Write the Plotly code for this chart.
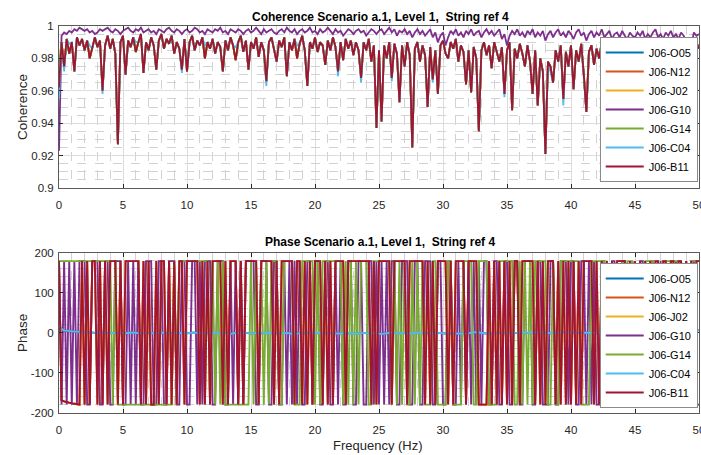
import plotly.graph_objects as go

# ---------------- data ----------------
STEP = 0.2  # Hz, sample spacing of the series below

names = ["J06-O05", "J06-N12", "J06-J02", "J06-G10", "J06-G14", "J06-C04", "J06-B11"]
colors = ["#0072BD", "#D95319", "#EDB120", "#7E2F8E", "#77AC30", "#4DBEEE", "#A2142F"]

x_ticks = [0, 5, 10, 15, 20, 25, 30, 35, 40, 45, 50]
coh_ticks = [0.9, 0.92, 0.94, 0.96, 0.98, 1.0]
coh_tick_labels = ["0.9", "0.92", "0.94", "0.96", "0.98", "1"]
ph_ticks = [-200, -100, 0, 100, 200]
ph_tick_labels = ["-200", "-100", "0", "100", "200"]

# Coherence of J06-B11 (0 .. 50 Hz, 0.2 Hz step)
coh_b11 = [
    0.962, 0.990, 0.975, 0.992, 0.983, 0.990, 0.972, 0.993, 0.988, 0.992, 0.985, 0.991, 0.980, 0.986, 0.993, 0.987, 0.991, 0.960, 0.988, 0.994, 0.986, 0.992, 0.983, 0.927, 0.990,
    0.994, 0.970, 0.991, 0.987, 0.993, 0.984, 0.990, 0.995, 0.971, 0.990, 0.985, 0.993, 0.988, 0.973, 0.991, 0.995, 0.986, 0.992, 0.989, 0.994, 0.983, 0.990, 0.986, 0.973, 0.992,
    0.972, 0.990, 0.994, 0.985, 0.991, 0.988, 0.993, 0.980, 0.990, 0.986, 0.992, 0.983, 0.990, 0.987, 0.972, 0.991, 0.985, 0.993, 0.988, 0.979, 0.990, 0.994, 0.984, 0.991, 0.973,
    0.990, 0.986, 0.993, 0.981, 0.990, 0.985, 0.966, 0.990, 0.993, 0.986, 0.978, 0.991, 0.987, 0.993, 0.969, 0.990, 0.985, 0.992, 0.980, 0.989, 0.994, 0.985, 0.963, 0.990, 0.986,
    0.993, 0.984, 0.990, 0.988, 0.976, 0.991, 0.985, 0.993, 0.987, 0.972, 0.990, 0.979, 0.992, 0.986, 0.991, 0.982, 0.990, 0.985, 0.968, 0.990, 0.985, 0.992, 0.978, 0.988, 0.937,
    0.985, 0.941, 0.988, 0.980, 0.990, 0.968, 0.989, 0.983, 0.953, 0.988, 0.975, 0.990, 0.982, 0.925, 0.986, 0.990, 0.978, 0.988, 0.982, 0.950, 0.987, 0.967, 0.985, 0.958, 0.988,
    0.991, 0.983, 0.980, 0.990, 0.986, 0.992, 0.978, 0.988, 0.984, 0.964, 0.985, 0.959, 0.987, 0.980, 0.935, 0.985, 0.990, 0.982, 0.988, 0.974, 0.990, 0.984, 0.978, 0.987, 0.958,
    0.985, 0.990, 0.948, 0.986, 0.980, 0.989, 0.983, 0.975, 0.988, 0.978, 0.958, 0.985, 0.951, 0.980, 0.972, 0.921, 0.978, 0.975, 0.965, 0.985, 0.978, 0.988, 0.955, 0.984, 0.975,
    0.988, 0.961, 0.985, 0.978, 0.989, 0.970, 0.947, 0.984, 0.988, 0.976, 0.986, 0.980, 0.990, 0.972, 0.985, 0.979, 0.988, 0.965, 0.985, 0.978, 0.988, 0.970, 0.985, 0.958, 0.986,
    0.978, 0.988, 0.962, 0.984, 0.918, 0.982, 0.988, 0.970, 0.985, 0.960, 0.986, 0.978, 0.988, 0.913, 0.984, 0.975, 0.987, 0.919, 0.985, 0.978, 0.958, 0.980, 0.988, 0.924, 0.990, 0.986,
]

# Coherence of J06-G10 (0 .. 50 Hz, 0.2 Hz step)
coh_g10 = [
    0.923, 0.994, 0.996, 0.995, 0.997, 0.996, 0.998, 0.997, 0.999, 0.998, 0.997, 0.998, 0.996, 0.997, 0.995, 0.996, 0.998, 0.997, 0.998, 0.999, 0.997, 0.996, 0.998, 0.997, 0.995,
    0.997, 0.998, 0.999, 0.997, 0.996, 0.998, 0.997, 0.999, 0.996, 0.997, 0.998, 0.996, 0.997, 0.995, 0.998, 0.997, 0.996, 0.998, 0.999, 0.997, 0.996, 0.998, 0.997, 0.995, 0.997,
    0.998, 0.996, 0.997, 0.999, 0.998, 0.996, 0.997, 0.995, 0.998, 0.997, 0.996, 0.998, 0.997, 0.999, 0.996, 0.997, 0.995, 0.998, 0.997, 0.996, 0.998, 0.997, 0.995, 0.997, 0.998,
    0.996, 0.997, 0.999, 0.997, 0.995, 0.998, 0.996, 0.997, 0.998, 0.996, 0.995, 0.997, 0.998, 0.996, 0.999, 0.997, 0.996, 0.998, 0.995, 0.997, 0.998, 0.996, 0.997, 0.999, 0.996,
    0.997, 0.995, 0.998, 0.996, 0.997, 0.999, 0.997, 0.995, 0.998, 0.996, 0.997, 0.994, 0.996, 0.998, 0.997, 0.995, 0.997, 0.998, 0.996, 0.997, 0.994, 0.996, 0.998, 0.997, 0.995,
    0.997, 0.998, 0.995, 0.997, 0.999, 0.996, 0.998, 0.994, 0.997, 0.996, 0.998, 0.995, 0.997, 0.993, 0.996, 0.998, 0.995, 0.997, 0.994, 0.996, 0.998, 0.993, 0.996, 0.990, 0.994,
    0.996, 0.988, 0.993, 0.997, 0.995, 0.998, 0.994, 0.996, 0.993, 0.997, 0.995, 0.998, 0.994, 0.996, 0.997, 0.993, 0.996, 0.998, 0.995, 0.997, 0.994, 0.996, 0.998, 0.992, 0.995,
    0.988, 0.994, 0.997, 0.995, 0.998, 0.994, 0.996, 0.993, 0.997, 0.995, 0.998, 0.993, 0.996, 0.994, 0.997, 0.991, 0.995, 0.997, 0.993, 0.996, 0.998, 0.994, 0.996, 0.993, 0.997,
    0.995, 0.992, 0.996, 0.998, 0.994, 0.996, 0.991, 0.995, 0.997, 0.993, 0.996, 0.994, 0.998, 0.993, 0.995, 0.997, 0.992, 0.995, 0.996, 0.993, 0.997, 0.994, 0.992, 0.996, 0.994,
    0.993, 0.996, 0.994, 0.997, 0.992, 0.995, 0.993, 0.996, 0.998, 0.993, 0.995, 0.992, 0.996, 0.994, 0.997, 0.993, 0.995, 0.992, 0.996, 0.994, 0.990, 0.993, 0.988, 0.996, 0.994, 0.995,
]

# Where the other coherence curves differ from J06-B11 (frequency Hz -> value)
coh_o05_diff = {}
coh_n12_diff = {0.0: 0.965}
coh_j02_diff = {0.0: 0.968}
coh_g14_diff = {0.0: 0.977, 45.8: 0.916}
coh_c04_diff = {0.0: 0.955, 0.4: 0.972, 0.8: 0.989, 2.4: 0.988, 3.4: 0.958, 6.0: 0.990,
                9.6: 0.971, 11.4: 0.988, 13.8: 0.987, 16.2: 0.963, 18.6: 0.988, 21.8: 0.969,
                23.6: 0.965, 26.0: 0.966, 29.2: 0.965, 34.8: 0.956, 38.4: 0.972, 39.4: 0.951,
                44.6: 0.955, 47.6: 0.907}

# Phase: sign of the wrapped phase (+ -> +179 deg, - -> -179 deg), 0.2 Hz step, 5 Hz per chunk
ph_b11_signs = [
    "+--------+-+-++-+-+-+++-+",
    "-++++++-+-+--+-++-+-+-++-",
    "+++++-+-+-++++-+-+++-+-++",
    "+++-+++++-+-+++++-++-+-+-",
    "+++-+-+-++++-+++++++++-+-",
    "+++++-+++++-++++++-+-+-++",
    "++-+-++++-++++----+-+-+-+",
    "-+-++-+++++-+-+-+++-+-+-+",
    "-+-+-++++-+-+-+-+-++++-+-",
    "+-+-+-+-++-++-++-++-+-+-++",
]
ph_g10_signs = [
    "+-+-+-+-+++--+++--++--+++",
    "--+-+-+--+++--++--+++--++",
    "--++-+-+++--+++--+-+-+-++",
    "++--+++--++--+-+-+-+--++-",
    "++--++--+-+--++--++--++-+",
    "-+-+-++--+++--++--+++--++",
    "--++--+-+-+-+-+-++--++--+",
    "+--++--+++--++---++--+++-",
    "++--++-+-+--++--++--++--+",
    "--++--++--+-+-+-+-+-+-++--",
]
ph_g14_signs = [
    "+++++++++++++++++++++-+--",
    "--------------------+-+++",
    "+++++++++-+-+-+----------",
    "+-+-+-+-+++--++++---+++++",
    "-+-++++++++-+-+-+-+++--++",
    "+++++-+-+-+--+-+-+---++--",
    "--++----++++--++++----+++",
    "+++--+-+-+-+++++--+--++++",
    "++++----++++++----+-+-+++",
    "----++++----++++++----++++",
]
# J06-B11 low branch near 0 Hz (Hz -> deg)
ph_b11_low = {0.2: -168, 0.4: -171, 0.6: -173, 0.8: -175, 1.0: -176, 1.2: -177, 1.4: -178, 1.6: -179}

# Phase of J06-C04 (deg), 0.2 Hz step
ph_c04 = [
    18, 10, 6, 5, 4, 4, 3, 3, 2, 2, 2, 1, 1, 1, 0, 1, 0, 1, 0, 0, -1, 0, 0, 1, 0,
    0, -1, 0, 0, 1, 0, -1, 0, 0, 1, 0, -1, -1, 0, 0, 1, 0, -1, 0, 0, 1, 0, -1, 0, 0,
    -1, 0, 0, 1, 0, -1, -2, -1, 0, 0, 1, 0, -1, -2, -1, 0, -2, -3, -1, 0, -1, 0, 1, 0, -1,
    -2, -1, 0, -1, -2, -1, 0, 1, 0, -1, -2, -3, -2, -1, 0, -1, -3, -4, -2, -1, 0, -1, 0, 1, 0,
    -1, 0, 1, 0, -1, -2, -1, 0, -1, -2, -1, -2, -3, -2, -1, -2, -3, -2, -1, 0, -1, -2, -1, 0, -1,
    -2, -3, -2, -1, 0, 1, 0, -1, -2, -1, 0, -1, -2, -1, 0, 1, 0, -1, -2, -1, 0, -1, -2, -1, 0,
    -1, -2, -1, -2, -3, -2, -1, -2, -3, -2, -1, 0, 1, 2, 1, 0, -1, -2, -3, -2, -1, 0, 1, 0, -1,
    0, 1, 0, -1, 0, 1, 2, 1, 0, 1, 2, 1, 0, 1, 2, 1, 0, -1, 0, 1, 0, 1, 2, 1, 0,
    1, 0, -1, 0, 1, 0, 1, 0, -1, 0, 1, 2, 1, 0, -1, 0, 1, 0, 1, 2, 1, 0, 1, 0, 1,
    0, 1, 2, 1, 0, 1, 0, 1, 2, 1, 0, 1, 2, 1, 2, 3, 2, 1, 2, 1, 2, 3, 2, 3, 5, 7,
]

# ---------------- build series ----------------
def freqs(n):
    return [round(i * STEP, 3) for i in range(n)]

def with_diff(base, diff):
    out = list(base)
    for f, v in diff.items():
        i = int(round(f / STEP))
        if i < len(out):
            out[i] = v
    return out

def signs_to_phase(chunks, low=None):
    s = "".join(chunks)
    vals = [179.0 if c == "+" else -179.0 for c in s]
    if low:
        vals = with_diff(vals, low)
    return vals

coh = {
    "J06-O05": with_diff(coh_b11, coh_o05_diff),
    "J06-N12": with_diff(coh_b11, coh_n12_diff),
    "J06-J02": with_diff(coh_b11, coh_j02_diff),
    "J06-G10": coh_g10,
    "J06-G14": with_diff(coh_b11, coh_g14_diff),
    "J06-C04": with_diff(coh_b11, coh_c04_diff),
    "J06-B11": coh_b11,
}
ph_red = signs_to_phase(ph_b11_signs, ph_b11_low)
phase = {
    "J06-O05": ph_c04,
    "J06-N12": ph_red,
    "J06-J02": ph_red,
    "J06-G10": signs_to_phase(ph_g10_signs),
    "J06-G14": signs_to_phase(ph_g14_signs),
    "J06-C04": ph_c04,
    "J06-B11": ph_red,
}

fig = go.Figure()
for name, col in zip(names, colors):
    yv = coh[name]
    fig.add_trace(go.Scatter(x=freqs(len(yv)), y=yv, mode="lines", name=name,
                             line=dict(color=col, width=1.8), xaxis="x", yaxis="y",
                             legend="legend"))
for name, col in zip(names, colors):
    yv = phase[name]
    fig.add_trace(go.Scatter(x=freqs(len(yv)), y=yv, mode="lines", name=name,
                             line=dict(color=col, width=1.9), xaxis="x2", yaxis="y2",
                             legend="legend2"))

FONT = "Liberation Sans, Arial, Helvetica, sans-serif"
TXT = "#262626"

def xax(anchor):
    return dict(range=[0, 50], tickvals=x_ticks, ticktext=[str(v) for v in x_ticks],
                anchor=anchor, ticks="inside", ticklen=4, ticklabelstandoff=6,
                ticklabeloverflow="allow", automargin=False,
                tickcolor=TXT, showline=True, linecolor="#5a5a5a", linewidth=1, mirror="ticks",
                showgrid=True, gridcolor="#dcdcdc", gridwidth=1, zeroline=False,
                tickfont=dict(size=11.5, color=TXT, family=FONT),
                minor=dict(dtick=1, tick0=0, showgrid=True, gridcolor="#d2d2d2", griddash="dash",
                           gridwidth=1, ticks=""))

def yax(rng, tv, tt, mdt, anchor, dom):
    return dict(range=rng, tickvals=tv, ticktext=tt, anchor=anchor, domain=dom, ticks="inside",
                ticklen=4, ticklabelstandoff=2, ticklabeloverflow="allow", automargin=False,
                tickcolor=TXT, showline=True, linecolor="#5a5a5a", linewidth=1,
                mirror="ticks", showgrid=True, gridcolor="#dcdcdc", gridwidth=1, zeroline=False,
                tickfont=dict(size=11.5, color=TXT, family=FONT),
                minor=dict(dtick=mdt, tick0=rng[0], showgrid=True, gridcolor="#d2d2d2",
                           griddash="dash", gridwidth=1, ticks=""))

legend_common = dict(xanchor="right", yanchor="top", bgcolor="white", bordercolor="#8a8a8a",
                     borderwidth=1, font=dict(size=11, color="#000", family=FONT),
                     itemwidth=38, tracegroupgap=0)

fig.update_layout(
    width=701, height=455,
    margin=dict(l=59, r=2, t=26, b=42, autoexpand=False),
    paper_bgcolor="white", plot_bgcolor="white",
    showlegend=True,
    xaxis=xax("y"),
    yaxis=yax([0.9, 1.0], coh_ticks, coh_tick_labels, 0.005, "x", [0.5814, 1.0]),
    xaxis2=xax("y2"),
    yaxis2=yax([-200, 200], ph_ticks, ph_tick_labels, 20, "x2", [0.0, 0.4142]),
    legend=dict(x=0.998, y=0.9716, **legend_common),
    legend2=dict(x=0.998, y=0.3876, **legend_common),
    annotations=[
        dict(text="<b>Coherence Scenario a.1, Level 1,\u00a0 String ref 4</b>", x=0.5016, y=1.0245,
             xref="paper", yref="paper", showarrow=False, xanchor="center", yanchor="middle",
             font=dict(size=12, color="#000", family=FONT)),
        dict(text="<b>Phase Scenario a.1, Level 1,\u00a0 String ref 4</b>", x=0.5016, y=0.4406,
             xref="paper", yref="paper", showarrow=False, xanchor="center", yanchor="middle",
             font=dict(size=12, color="#000", family=FONT)),
        dict(text="Coherence", x=(22 - 59) / 640, y=(413 - 107) / 387, xref="paper", yref="paper",
             showarrow=False, textangle=-90, xanchor="center", yanchor="middle",
             font=dict(size=13.5, color=TXT, family=FONT)),
        dict(text="Phase", x=(22 - 59) / 640, y=(413 - 333) / 387, xref="paper", yref="paper",
             showarrow=False, textangle=-90, xanchor="center", yanchor="middle",
             font=dict(size=13.5, color=TXT, family=FONT)),
        dict(text="Frequency (Hz)", x=(378 - 59) / 640, y=(413 - 445) / 387, xref="paper",
             yref="paper", showarrow=False, xanchor="center", yanchor="middle",
             font=dict(size=13, color=TXT, family=FONT)),
    ],
)

# Remove the default 8 px page margin so the 701x455 figure fills the window exactly.
fig.write_html("out.html", config={"displayModeBar": False},
               post_script="document.body.style.margin='0';document.body.style.overflow='hidden';")
